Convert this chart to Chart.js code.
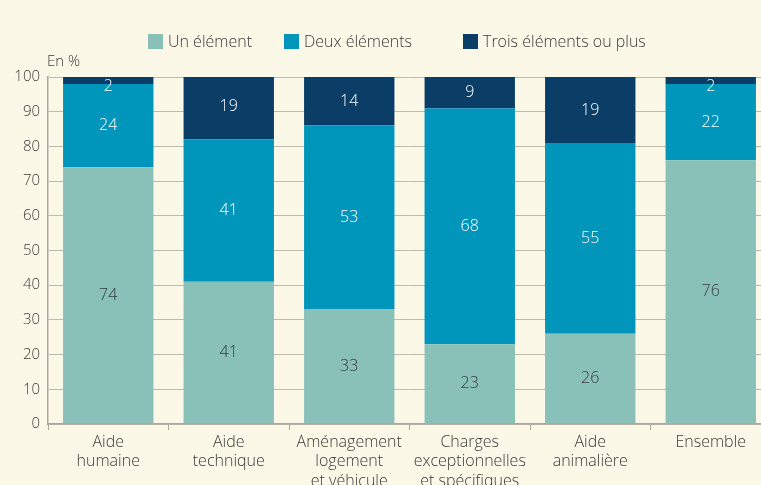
<!DOCTYPE html>
<html lang="fr">
<head>
<meta charset="utf-8">
<script src="https://cdn.jsdelivr.net/npm/chart.js@4"></script>
<style>
  html, body { margin: 0; padding: 0; background: #fcf8e8; overflow: hidden; }
  #zone { position: relative; width: 771px; height: 500px; }
  .leg { position: absolute; top: 30px; font: 300 16px "Open Sans", sans-serif; color: #3a3a3a; display: flex; align-items: center; white-space: nowrap; }
  .leg span { display: inline-block; width: 15px; height: 15px; margin-right: 5px; }
  #unite { position: absolute; left: 47px; top: 50px; font: 300 15px "Open Sans", sans-serif; color: #3a3a3a; }
</style>
</head>
<body>
<div id="zone">
  <div id="legende"></div>
  <div id="unite">En %</div>
  <canvas id="grafico"></canvas>
</div>
<script>
const categories = [
  ["Aide", "humaine"],
  ["Aide", "technique"],
  ["Aménagement", "logement", "et véhicule"],
  ["Charges", "exceptionnelles", "et spécifiques"],
  ["Aide", "animalière"],
  ["Ensemble"]
];
const series = ["Un élément", "Deux éléments", "Trois éléments ou plus"];
const unElement    = [74, 41, 33, 23, 26, 76];
const deuxElements = [24, 41, 53, 68, 55, 22];
const troisPlus    = [2, 19, 14, 9, 19, 2];
const yTicks = [0, 10, 20, 30, 40, 50, 60, 70, 80, 90, 100];

const couleurs = ["#89c1b8", "#0095bb", "#0a3e66"];
const couleursTexte = ["#3a3a3a", "#ffffff", "#ffffff"];
const legendeX = [148, 284, 463];

// legende en html
const legende = document.getElementById("legende");
series.forEach((nom, i) => {
  const item = document.createElement("div");
  item.className = "leg";
  item.style.left = legendeX[i] + "px";
  item.innerHTML = `<span style="background:${couleurs[i]}"></span>${nom}`;
  legende.appendChild(item);
});

const etiquettes = {
  id: "etiquettes",
  afterDatasetsDraw(chart) {
    const ctx = chart.ctx;
    const haut = chart.chartArea.top;
    ctx.save();
    ctx.font = '300 16px "Open Sans", sans-serif';
    ctx.textAlign = "center";
    ctx.textBaseline = "middle";
    chart.data.datasets.forEach((ds, d) => {
      const meta = chart.getDatasetMeta(d);
      ctx.fillStyle = couleursTexte[d];
      meta.data.forEach((bar, i) => {
        const p = bar.getProps(["x", "y", "base"], true);
        let y = (p.y + p.base) / 2;
        y = Math.max(y, Math.max(p.y, haut) + 9);
        ctx.fillText(ds.data[i], p.x, y);
      });
    });
    ctx.restore();
  }
};

const grafico = new Chart(document.getElementById("grafico"), {
  type: "bar",
  data: {
    labels: categories,
    datasets: [
      { label: series[0], data: unElement, backgroundColor: couleurs[0] },
      { label: series[1], data: deuxElements, backgroundColor: couleurs[1] },
      { label: series[2], data: troisPlus, backgroundColor: couleurs[2] }
    ].map(ds => Object.assign(ds, { categoryPercentage: 1, barPercentage: 0.75, clip: 0, borderWidth: 0 }))
  },
  plugins: [etiquettes],
  options: {
    responsive: true,
    maintainAspectRatio: false,
    animation: false,
    layout: { padding: { top: 77, left: 0, right: 0, bottom: 0 } },
    plugins: { legend: { display: false }, tooltip: { enabled: false } },
    scales: {
      x: {
        stacked: true,
        afterFit: (s) => { s.height = 76; },
        grid: { offset: true, drawOnChartArea: false, drawTicks: true, tickLength: 6, color: "#a9a7a0", lineWidth: 1 },
        border: { display: true, color: "#a9a7a0", width: 1.5 },
        ticks: { color: "#3a3a3a", padding: 3, maxRotation: 0, autoSkip: false, font: { family: "Open Sans", size: 16, weight: "300", lineHeight: 1.2 } }
      },
      y: {
        stacked: true,
        min: 0,
        max: 100,
        afterFit: (s) => { s.width = 48; },
        afterBuildTicks: (s) => { s.ticks = yTicks.map(v => ({ value: v })); },
        grid: { drawTicks: false, color: "#bdbab0", lineWidth: 1 },
        border: { display: true, color: "#a9a7a0", width: 1.5 },
        ticks: { color: "#3a3a3a", padding: 8, font: { family: "Open Sans", size: 15, weight: "300" } }
      }
    }
  }
});
</script>
</body>
</html>
